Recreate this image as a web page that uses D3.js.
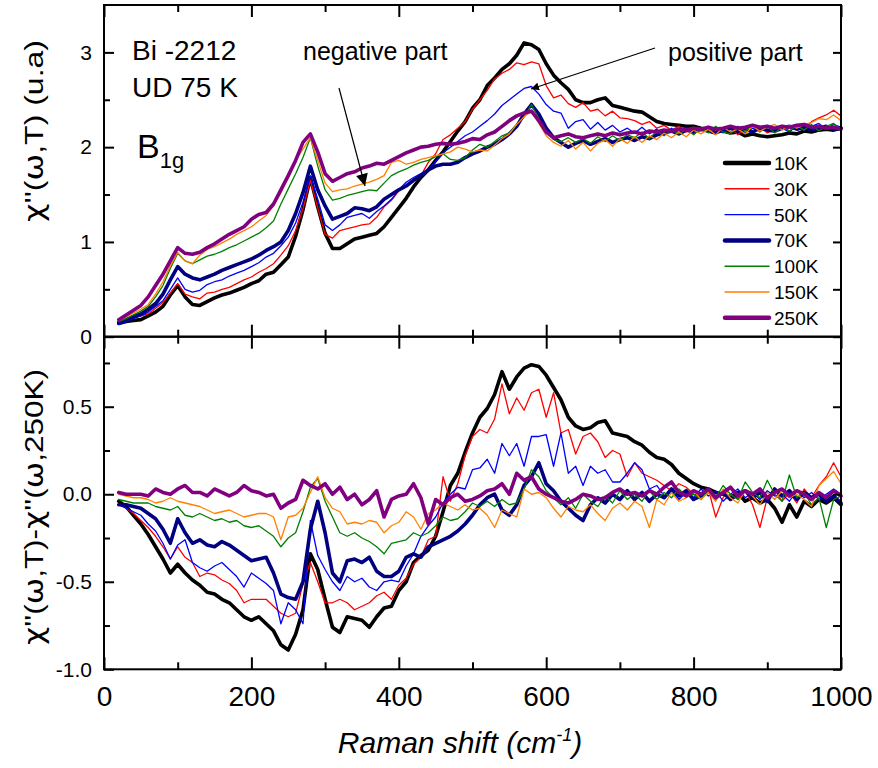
<!DOCTYPE html>
<html><head><meta charset="utf-8">
<script src="https://cdn.jsdelivr.net/npm/d3@7"></script>
<style>
body{margin:0;background:#fff}
svg{display:block}
text{font-family:"Liberation Sans",Arial,sans-serif;fill:#000}
</style>
</head><body>
<svg id="chart" width="878" height="768"></svg>
<script>
// ---------------- DATA ----------------
const ramanShift = [20,30,40,50,60,70,80,90,100,110,
 120,130,140,150,160,170,180,190,200,210,
 220,230,240,250,260,270,280,290,300,310,
 320,330,340,350,360,370,380,390,400,410,
 420,430,440,450,460,470,480,490,500,510,
 520,530,540,550,560,570,580,590,600,610,
 620,630,640,650,660,670,680,690,700,710,
 720,730,740,750,760,770,780,790,800,810,
 820,830,840,850,860,870,880,890,900,910,
 920,930,940,950,960,970,980,990,1000];

const seriesNames = ["10K","30K","50K","70K","100K","150K","250K"];

// top panel: chi''(w,T)
const chi10K = [0.14,0.16,0.17,0.18,0.22,0.26,0.32,0.44,0.54,0.42,
 0.34,0.33,0.37,0.41,0.44,0.46,0.49,0.52,0.56,0.59,
 0.66,0.68,0.76,0.84,1.06,1.34,1.68,1.37,1.09,0.93,
 0.93,0.98,1.03,1.05,1.07,1.09,1.16,1.26,1.36,1.46,
 1.58,1.68,1.76,1.86,1.95,2.06,2.17,2.27,2.41,2.50,
 2.65,2.73,2.82,2.88,2.97,3.10,3.08,3.03,2.88,2.76,
 2.68,2.61,2.50,2.47,2.47,2.50,2.52,2.44,2.42,2.40,
 2.38,2.37,2.32,2.27,2.25,2.24,2.23,2.22,2.22,2.20,
 2.19,2.18,2.17,2.15,2.16,2.12,2.14,2.12,2.11,2.12,
 2.13,2.15,2.14,2.17,2.16,2.18,2.19,2.18,2.20];
const chi30K = [0.15,0.18,0.20,0.22,0.24,0.30,0.36,0.46,0.56,0.45,
 0.42,0.40,0.46,0.47,0.50,0.52,0.56,0.60,0.63,0.68,
 0.72,0.77,0.86,0.96,1.12,1.35,1.65,1.36,1.08,1.04,
 1.12,1.14,1.16,1.18,1.19,1.26,1.37,1.44,1.54,1.60,
 1.66,1.70,1.84,1.93,2.08,2.13,2.20,2.27,2.40,2.50,
 2.60,2.72,2.78,2.82,2.89,2.87,2.90,2.88,2.65,2.52,
 2.55,2.46,2.42,2.47,2.38,2.40,2.33,2.38,2.31,2.30,
 2.28,2.24,2.27,2.20,2.23,2.18,2.22,2.16,2.21,2.17,
 2.22,2.14,2.19,2.21,2.13,2.20,2.16,2.22,2.15,2.19,
 2.23,2.17,2.22,2.18,2.27,2.31,2.34,2.39,2.33];
const chi50K = [0.13,0.16,0.19,0.22,0.26,0.32,0.38,0.50,0.62,0.50,
 0.47,0.49,0.55,0.58,0.60,0.64,0.67,0.70,0.74,0.78,
 0.84,0.88,0.96,1.05,1.20,1.42,1.70,1.45,1.18,1.12,
 1.18,1.26,1.28,1.30,1.25,1.32,1.38,1.45,1.55,1.63,
 1.68,1.72,1.76,1.85,1.94,2.00,2.06,2.12,2.16,2.22,
 2.28,2.35,2.44,2.50,2.56,2.62,2.64,2.56,2.45,2.38,
 2.36,2.20,2.27,2.29,2.19,2.26,2.18,2.23,2.16,2.20,
 2.15,2.21,2.14,2.19,2.13,2.20,2.15,2.21,2.14,2.20,
 2.16,2.21,2.15,2.19,2.22,2.15,2.20,2.17,2.23,2.16,
 2.20,2.16,2.23,2.18,2.22,2.25,2.19,2.24,2.21];
const chi70K = [0.15,0.18,0.21,0.24,0.29,0.35,0.45,0.60,0.74,0.66,
 0.62,0.60,0.63,0.66,0.70,0.73,0.76,0.79,0.82,0.86,
 0.91,0.95,1.00,1.12,1.30,1.52,1.80,1.55,1.38,1.24,
 1.27,1.30,1.36,1.35,1.33,1.37,1.45,1.50,1.55,1.59,
 1.65,1.70,1.76,1.80,1.82,1.82,1.84,1.89,1.93,1.96,
 2.00,2.03,2.08,2.14,2.22,2.35,2.45,2.35,2.20,2.10,
 2.05,2.00,2.04,2.07,2.03,2.06,2.09,2.05,2.08,2.10,
 2.07,2.11,2.09,2.13,2.15,2.17,2.14,2.18,2.16,2.19,
 2.17,2.15,2.18,2.20,2.17,2.19,2.16,2.20,2.18,2.17,
 2.20,2.22,2.19,2.21,2.18,2.20,2.22,2.19,2.20];
const chi100K = [0.16,0.19,0.23,0.27,0.32,0.42,0.54,0.72,0.88,0.80,
 0.77,0.81,0.85,0.87,0.90,0.94,0.97,1.01,1.05,1.09,
 1.15,1.22,1.40,1.56,1.72,1.89,2.10,1.80,1.55,1.44,
 1.46,1.49,1.51,1.53,1.55,1.54,1.62,1.70,1.74,1.77,
 1.81,1.84,1.86,1.90,1.93,1.87,1.86,1.89,1.97,2.03,
 2.00,2.06,2.12,2.15,2.24,2.32,2.45,2.30,2.16,2.08,
 2.06,2.10,2.05,2.09,2.04,2.11,2.06,2.12,2.07,2.13,
 2.10,2.16,2.09,2.17,2.12,2.18,2.14,2.19,2.13,2.20,
 2.15,2.22,2.16,2.14,2.21,2.17,2.23,2.16,2.22,2.15,
 2.21,2.17,2.23,2.18,2.24,2.17,2.22,2.25,2.18];
const chi150K = [0.17,0.21,0.25,0.29,0.34,0.45,0.58,0.75,0.89,0.80,
 0.77,0.86,0.92,0.95,0.99,1.03,1.08,1.12,1.16,1.22,
 1.28,1.38,1.52,1.68,1.86,1.98,2.10,1.86,1.62,1.53,
 1.55,1.56,1.59,1.61,1.63,1.66,1.70,1.84,1.86,1.82,
 1.84,1.87,1.89,1.91,1.93,1.95,2.00,1.98,1.95,1.97,
 1.96,2.02,2.09,2.14,2.24,2.32,2.38,2.25,2.12,2.05,
 2.01,2.07,1.98,2.05,1.96,2.04,2.08,2.01,2.09,2.04,
 2.11,2.05,2.12,2.08,2.15,2.10,2.16,2.11,2.18,2.14,
 2.19,2.13,2.21,2.16,2.19,2.14,2.22,2.17,2.21,2.24,
 2.18,2.23,2.20,2.24,2.26,2.30,2.29,2.34,2.28];
const chi250K = [0.18,0.23,0.28,0.33,0.42,0.54,0.66,0.80,0.94,0.88,
 0.87,0.89,0.94,0.98,1.03,1.08,1.12,1.16,1.24,1.29,
 1.31,1.40,1.55,1.70,1.86,2.05,2.14,1.95,1.72,1.64,
 1.68,1.72,1.74,1.78,1.80,1.83,1.82,1.86,1.90,1.94,
 1.97,2.00,2.01,2.03,2.04,2.03,2.04,2.06,2.09,2.08,
 2.13,2.16,2.22,2.28,2.33,2.36,2.38,2.28,2.16,2.10,
 2.12,2.14,2.11,2.10,2.12,2.14,2.12,2.15,2.13,2.15,
 2.16,2.14,2.17,2.16,2.18,2.17,2.19,2.18,2.20,2.19,
 2.21,2.19,2.20,2.22,2.20,2.21,2.23,2.21,2.22,2.20,
 2.22,2.21,2.23,2.24,2.21,2.22,2.20,2.21,2.19];

// bottom panel: chi''(w,T) - chi''(w,250K)
const diff10K = [-0.04,-0.07,-0.12,-0.17,-0.23,-0.30,-0.37,-0.45,-0.40,-0.45,
 -0.49,-0.52,-0.56,-0.57,-0.60,-0.62,-0.66,-0.70,-0.72,-0.70,
 -0.74,-0.78,-0.86,-0.89,-0.80,-0.66,-0.34,-0.43,-0.60,-0.76,
 -0.79,-0.70,-0.71,-0.72,-0.76,-0.70,-0.65,-0.64,-0.55,-0.50,
 -0.39,-0.35,-0.32,-0.24,-0.10,0.05,0.12,0.24,0.35,0.44,
 0.49,0.57,0.70,0.60,0.67,0.72,0.74,0.73,0.68,0.61,
 0.54,0.44,0.39,0.37,0.38,0.41,0.42,0.35,0.34,0.33,
 0.30,0.28,0.24,0.21,0.20,0.17,0.12,0.09,0.06,0.04,
 0.03,0.01,0.00,-0.02,0.01,-0.04,-0.02,-0.05,-0.03,-0.08,
 -0.16,-0.06,-0.13,-0.04,-0.07,-0.03,-0.05,-0.02,-0.06];
const diff30K = [-0.06,-0.08,-0.11,-0.15,-0.19,-0.24,-0.30,-0.37,-0.30,-0.36,
 -0.39,-0.47,-0.45,-0.46,-0.49,-0.51,-0.55,-0.62,-0.60,-0.60,
 -0.60,-0.64,-0.68,-0.70,-0.68,-0.51,-0.39,-0.50,-0.62,-0.62,
 -0.60,-0.62,-0.66,-0.64,-0.62,-0.58,-0.56,-0.60,-0.52,-0.48,
 -0.40,-0.36,-0.26,-0.24,0.10,-0.04,0.06,0.22,0.33,0.37,
 0.35,0.43,0.63,0.46,0.55,0.48,0.58,0.60,0.44,0.58,
 0.35,0.37,0.23,0.33,0.35,0.30,0.21,0.25,0.23,0.10,
 0.18,0.12,0.10,0.08,0.05,0.02,0.06,0.04,0.00,-0.01,
 0.03,-0.13,-0.02,0.04,-0.03,0.02,-0.06,-0.19,-0.02,0.03,
 -0.04,0.01,-0.05,0.03,-0.02,0.05,0.10,0.18,0.10];
const diff50K = [-0.06,-0.08,-0.10,-0.12,-0.17,-0.21,-0.28,-0.37,-0.29,-0.26,
 -0.39,-0.42,-0.44,-0.41,-0.39,-0.43,-0.47,-0.53,-0.45,-0.48,
 -0.51,-0.55,-0.74,-0.62,-0.66,-0.74,-0.15,-0.35,-0.43,-0.50,
 -0.55,-0.47,-0.50,-0.48,-0.53,-0.55,-0.50,-0.49,-0.50,-0.41,
 -0.34,-0.24,-0.18,-0.13,-0.05,0.00,0.04,0.03,0.14,0.15,
 0.20,0.12,0.29,0.22,0.29,0.16,0.33,0.33,0.34,0.16,
 0.35,0.12,0.16,0.05,0.16,0.12,0.14,0.07,0.07,0.12,
 0.18,0.14,0.03,0.05,-0.01,0.02,-0.03,0.01,-0.02,0.03,
 -0.01,0.02,-0.04,0.00,0.03,-0.02,0.01,-0.03,0.02,-0.01,
 0.00,-0.04,0.02,-0.02,0.01,-0.03,0.00,0.03,0.00];
const diff70K = [-0.06,-0.06,-0.07,-0.08,-0.11,-0.14,-0.20,-0.28,-0.14,-0.22,
 -0.28,-0.26,-0.29,-0.30,-0.27,-0.29,-0.32,-0.35,-0.38,-0.37,
 -0.36,-0.45,-0.57,-0.59,-0.60,-0.50,-0.20,-0.04,-0.22,-0.45,
 -0.50,-0.38,-0.37,-0.39,-0.36,-0.44,-0.47,-0.47,-0.44,-0.36,
 -0.34,-0.36,-0.30,-0.28,-0.26,-0.24,-0.21,-0.17,-0.12,-0.06,
 -0.02,0.00,-0.09,-0.12,-0.06,0.05,0.10,0.18,0.06,0.02,
 -0.04,-0.08,-0.12,-0.15,-0.06,-0.02,-0.05,0.00,-0.03,0.02,
 -0.03,0.01,-0.04,0.00,-0.02,0.03,-0.01,0.02,-0.03,-0.01,
 0.02,-0.02,0.01,-0.03,0.00,0.02,-0.02,0.01,-0.04,0.03,
 -0.01,0.02,-0.03,0.01,-0.02,0.00,-0.04,-0.01,-0.05];
const diff100K = [-0.03,-0.04,-0.05,-0.05,-0.05,-0.07,-0.08,-0.09,-0.07,-0.12,
 -0.13,-0.11,-0.13,-0.15,-0.14,-0.16,-0.15,-0.18,-0.19,-0.18,
 -0.21,-0.24,-0.30,-0.25,-0.22,-0.10,0.04,0.09,-0.04,-0.13,
 -0.22,-0.24,-0.22,-0.25,-0.27,-0.30,-0.34,-0.28,-0.27,-0.26,
 -0.22,-0.24,-0.22,-0.18,-0.13,-0.15,-0.14,-0.10,-0.05,-0.07,
 -0.04,-0.07,-0.03,-0.06,-0.05,0.03,0.14,0.10,0.02,-0.02,
 -0.06,-0.02,-0.08,0.00,-0.04,-0.07,-0.01,-0.05,0.02,-0.03,
 0.00,-0.04,0.02,-0.03,0.01,-0.02,0.03,-0.01,0.00,-0.03,
 0.02,-0.02,0.05,0.00,-0.03,0.07,0.01,-0.02,0.08,0.00,
 -0.04,0.11,-0.02,0.01,-0.06,-0.02,-0.19,-0.03,-0.01];
const diff150K = [0.00,-0.01,-0.02,-0.02,-0.03,-0.05,-0.04,-0.02,-0.04,-0.05,
 -0.06,-0.07,-0.09,-0.11,-0.10,-0.09,-0.11,-0.13,-0.12,-0.11,
 -0.11,-0.13,-0.26,-0.13,-0.12,-0.08,0.01,0.10,-0.02,-0.08,
 -0.10,-0.17,-0.16,-0.17,-0.15,-0.16,-0.22,-0.18,-0.16,-0.10,
 -0.13,-0.20,-0.11,-0.09,-0.05,-0.07,-0.09,-0.06,-0.09,-0.08,
 -0.12,-0.19,-0.09,-0.11,-0.13,0.03,0.00,0.01,-0.02,-0.08,
 -0.13,-0.07,-0.09,-0.10,-0.06,-0.11,-0.15,-0.08,-0.05,-0.09,
 -0.04,-0.07,-0.19,-0.03,-0.06,0.01,-0.04,-0.02,0.02,-0.03,
 0.01,-0.04,0.03,-0.02,-0.05,0.02,-0.01,-0.06,0.01,-0.03,
 0.02,-0.02,0.00,-0.03,-0.07,0.05,0.09,0.13,0.06];
const diff250K = [0.01,0.00,0.00,0.00,-0.01,0.03,0.01,0.00,0.03,0.05,
 0.01,0.01,-0.01,0.03,0.01,-0.01,0.01,0.05,0.02,0.01,
 -0.01,0.00,-0.08,-0.05,-0.03,0.08,0.05,0.03,0.06,0.00,
 0.04,-0.03,0.00,-0.06,-0.03,0.02,-0.13,-0.03,-0.01,0.00,
 0.06,-0.02,-0.17,-0.03,-0.06,-0.02,0.00,-0.04,-0.03,-0.01,
 0.02,0.03,0.06,0.00,0.12,0.08,0.10,0.03,0.00,-0.02,
 -0.04,-0.05,-0.03,0.00,-0.01,-0.03,-0.02,0.01,0.03,0.00,
 0.01,-0.01,0.02,0.00,0.04,0.07,0.01,-0.01,0.02,0.00,
 0.03,-0.02,0.01,0.04,-0.01,0.02,0.00,0.03,-0.02,0.01,
 0.03,-0.01,0.02,0.00,-0.03,0.01,-0.02,0.02,-0.01];

const xTickValues = [0,200,400,600,800,1000];
const topTickValues = [0,1,2,3];
const bottomTickValues = [-1.0,-0.5,0.0,0.5];

// ---------------- STYLE ----------------
const topSeries = [chi10K,chi30K,chi50K,chi70K,chi100K,chi150K,chi250K];
const bottomSeries = [diff10K,diff30K,diff50K,diff70K,diff100K,diff150K,diff250K];
const colors = ["#000000","#ff0000","#0000ff","#000080","#008000","#ff8000","#800080"];
const thick = [true,false,false,true,false,false,true];

const svg = d3.select("#chart");
const L = 104, R = 841, T = 5, M = 336.7, B = 669.3;
const x = d3.scaleLinear([0,1000],[L,R]);
const yT = d3.scaleLinear([0,3.5],[M,T]);
const yB = d3.scaleLinear([-1,0.9],[B,M]);

function drawSeries(ys, yScale){
  const g = svg.append("g");
  ys.forEach((vals,i)=>{
    const line = d3.line().x((d,j)=>x(ramanShift[j])).y(d=>yScale(d));
    g.append("path").attr("d",line(vals)).attr("fill","none")
      .attr("stroke",colors[i]).attr("stroke-width",thick[i]?3.6:1.3)
      .attr("stroke-linejoin","round").attr("stroke-linecap","round");
  });
}
drawSeries(topSeries,yT);
drawSeries(bottomSeries,yB);

function axisG(axis, tx, ty){
  const g = svg.append("g").attr("transform",`translate(${tx},${ty})`).call(axis);
  g.select(".domain").remove();
  g.selectAll(".tick line").attr("stroke","#000").attr("stroke-width",2);
  return g;
}
const xMinor = [100,300,500,700,900];
axisG(d3.axisTop(x).tickValues(xTickValues).tickSize(-12).tickFormat(""),0,T);
axisG(d3.axisTop(x).tickValues(xMinor).tickSize(-7).tickFormat(""),0,T);
axisG(d3.axisBottom(x).tickValues(xTickValues).tickSize(-12).tickFormat(""),0,M);
axisG(d3.axisBottom(x).tickValues(xMinor).tickSize(-7).tickFormat(""),0,M);
axisG(d3.axisTop(x).tickValues(xTickValues).tickSize(-12).tickFormat(""),0,M);
axisG(d3.axisTop(x).tickValues(xMinor).tickSize(-7).tickFormat(""),0,M);
const xb = axisG(d3.axisBottom(x).tickValues(xTickValues).tickSize(-12).tickPadding(17).tickFormat(d=>d),0,B);
xb.selectAll("text").attr("font-size",28).attr("font-family","Liberation Sans, Arial, sans-serif");
axisG(d3.axisBottom(x).tickValues(xMinor).tickSize(-7).tickFormat(""),0,B);

const yl = axisG(d3.axisLeft(yT).tickValues(topTickValues).tickSize(-10).tickPadding(12).tickFormat(d=>d),L,0);
yl.selectAll("text").attr("font-size",21).attr("font-family","Liberation Sans, Arial, sans-serif");
axisG(d3.axisLeft(yT).tickValues([0.5,1.5,2.5]).tickSize(-6).tickFormat(""),L,0);
axisG(d3.axisRight(yT).tickValues(topTickValues.concat([0.5,1.5,2.5])).tickSize(-8).tickFormat(""),R,0);
const yl2 = axisG(d3.axisLeft(yB).tickValues(bottomTickValues).tickSize(-10).tickPadding(12).tickFormat(d=>d.toFixed(1)),L,0);
yl2.selectAll("text").attr("font-size",21).attr("font-family","Liberation Sans, Arial, sans-serif");
axisG(d3.axisLeft(yB).tickValues([-0.75,-0.25,0.25,0.75]).tickSize(-6).tickFormat(""),L,0);
axisG(d3.axisRight(yB).tickValues(bottomTickValues.concat([-0.75,-0.25,0.25,0.75])).tickSize(-8).tickFormat(""),R,0);

svg.append("rect").attr("x",L).attr("y",T).attr("width",R-L).attr("height",M-T)
  .attr("fill","none").attr("stroke","#000").attr("stroke-width",2);
svg.append("rect").attr("x",L).attr("y",M).attr("width",R-L).attr("height",B-M)
  .attr("fill","none").attr("stroke","#000").attr("stroke-width",2);

// axis titles (chi / omega glyphs from DejaVu Sans)
function greekTitle(parts, cx, cy, len){
  const t = svg.append("text").attr("transform",`translate(43,${cy}) rotate(-90)`).attr("text-anchor","middle")
    .attr("font-size",26).attr("textLength",len).attr("lengthAdjust","spacingAndGlyphs");
  parts.forEach(p=>{
    const s = t.append("tspan").text(p);
    if (p==="\u03C7"||p==="\u03C9") s.attr("font-family","DejaVu Sans");
  });
}
greekTitle(["\u03C7","''(","\u03C9",",T) (u.a)"],43,131,182);
greekTitle(["\u03C7","''(","\u03C9",",T)-","\u03C7","''(","\u03C9",",250K)"],43,507,276);

const xt = svg.append("text").attr("x",460).attr("y",753).attr("text-anchor","middle")
  .attr("font-size",30).attr("font-style","italic");
xt.append("tspan").text("Raman shift (cm");
xt.append("tspan").attr("font-size",18).attr("dy",-12).text("-1");
xt.append("tspan").attr("dy",12).text(")");

// annotations
svg.append("text").attr("x",132).attr("y",60).attr("font-size",28).text("Bi -2212");
svg.append("text").attr("x",132).attr("y",97).attr("font-size",28).text("UD 75 K");
const b1g = svg.append("text").attr("x",137).attr("y",158).attr("font-size",34);
b1g.append("tspan").text("B");
b1g.append("tspan").attr("font-size",22).attr("dy",10).text("1g");
svg.append("text").attr("x",303).attr("y",60).attr("font-size",25).text("negative part");
svg.append("text").attr("x",668).attr("y",61).attr("font-size",25).text("positive part");

const defs = svg.append("defs");
defs.append("marker").attr("id","ah").attr("viewBox","0 0 10 10").attr("refX",10).attr("refY",5)
  .attr("markerWidth",8).attr("markerHeight",8).attr("markerUnits","userSpaceOnUse").attr("orient","auto")
  .append("path").attr("d","M0,0 L10,5 L0,10 z").attr("fill","#000");
defs.append("marker").attr("id","ah2").attr("viewBox","0 0 10 10").attr("refX",10).attr("refY",5)
  .attr("markerWidth",14).attr("markerHeight",12).attr("markerUnits","userSpaceOnUse").attr("orient","auto")
  .append("path").attr("d","M0,0 L10,5 L0,10 z").attr("fill","#000");
svg.append("line").attr("x1",339).attr("y1",88).attr("x2",365).attr("y2",186)
  .attr("stroke","#000").attr("stroke-width",1.2).attr("marker-end","url(#ah2)");
svg.append("line").attr("x1",655).attr("y1",48).attr("x2",531).attr("y2",89)
  .attr("stroke","#000").attr("stroke-width",1.2).attr("marker-end","url(#ah)");

// legend
const lg = svg.append("g");
seriesNames.forEach((n,i)=>{
  const yy = 163 + i*25.8;
  lg.append("line").attr("x1",725).attr("x2",769).attr("y1",yy).attr("y2",yy)
    .attr("stroke",colors[i]).attr("stroke-width",thick[i]?4.5:1.4).attr("stroke-linecap","round");
  lg.append("text").attr("x",774).attr("y",yy+7).attr("font-size",19).text(n);
});
</script>
</body></html>
